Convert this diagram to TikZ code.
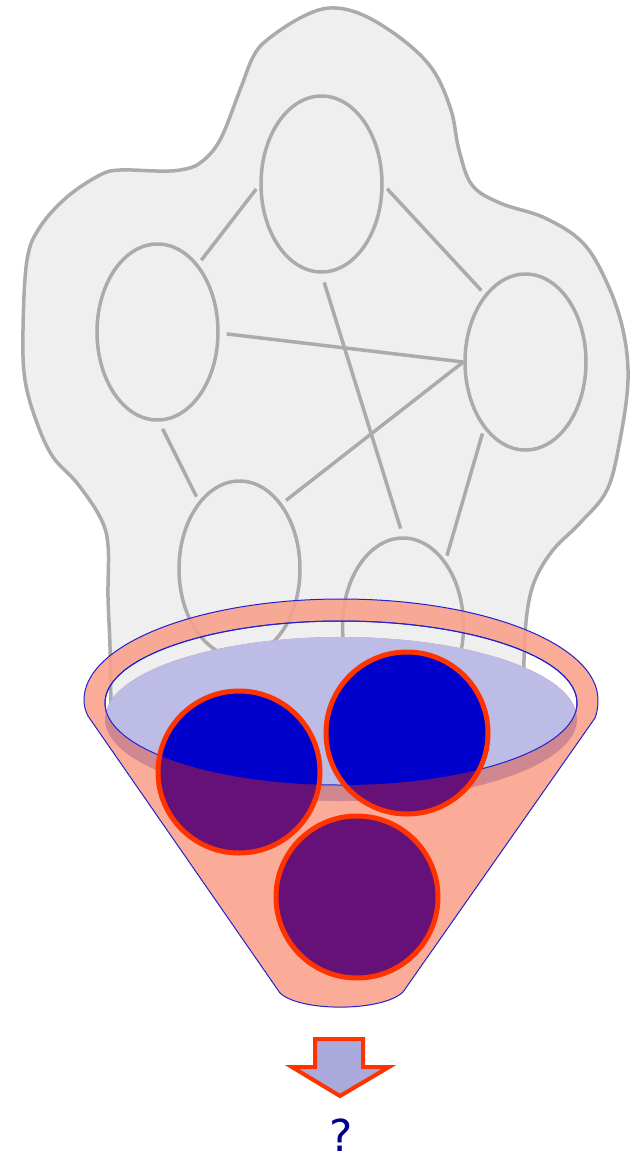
\documentclass[tikz,border=0pt]{standalone}
\usepackage{fontspec}
\setmainfont{DejaVu Sans}
\usepackage{tikz}
\usetikzlibrary{shapes.geometric}
\definecolor{cloudfill}{HTML}{EFEFEF}
\definecolor{cloudline}{HTML}{ABABAB}
\definecolor{salmon}{HTML}{FAA08A}
\definecolor{rimblue}{HTML}{2222CC}
\definecolor{lavender}{HTML}{BCBCE6}
\definecolor{mauve}{HTML}{D08890}
\definecolor{ballblue}{HTML}{0000CC}
\definecolor{ballpurple}{HTML}{661177}
\definecolor{ballred}{HTML}{FF3300}
\definecolor{arrowfill}{HTML}{AAAADD}
\definecolor{qblue}{HTML}{00008C}

\begin{document}
\begin{tikzpicture}[x=1pt,y=-1pt,
  gnode/.style={ellipse,draw=cloudline,line width=3.5pt,minimum width=121pt,
                minimum height=176pt,inner sep=0pt},
  gedge/.style={draw=cloudline,line width=3.5pt,shorten <=5pt,shorten >=5pt},
  ball/.style={draw=ballred,line width=5pt}]
  \useasboundingbox (0,0) rectangle (640,1157);

  % the cloud with its graph
  \draw[cloudline,fill=cloudfill,line width=3.5pt,line join=round]
    plot[smooth,tension=0.6] coordinates {(523,715) (524,660) (527,613) (535,580)
      (553,550) (580,523) (607,490) (620,440) (628,380) (623,330) (607,283)
      (583,243) (545,218) (500,203) (472,185) (459,150) (451,110) (433,70)
      (403,40) (363,15) (330,8) (300,18) (267,40) (253,57) (240,90) (220,140)
      (200,163) (180,170) (157,171) (120,170) (100,175) (67,197) (40,227)
      (27,260) (23,330) (25,380) (37,423) (53,457) (77,483) (100,517)
      (108,545) (108,597) (110,647) (111,715)} -- cycle;

  \node[gnode] (ntop)   at (321.5,184) {};
  \node[gnode] (nleft)  at (157.5,332) {};
  \node[gnode] (nright) at (525.5,362) {};
  \node[gnode] (nlowl)  at (239.5,569) {};
  \node[gnode] (nlowr)  at (403,626) {};

  \draw[gedge] (ntop.181) -- (nleft.59);
  \draw[gedge] (ntop.-1) -- (nright.121);
  \draw[gedge,shorten <=7pt,shorten >=0pt] (nleft.-1) -- (nright.180);
  \draw[gedge,shorten <=9pt,shorten >=8pt] (ntop.-90) -- (nlowr.90);
  \draw[gedge,shorten <=0pt] (nright.180) -- (nlowl.57);
  \draw[gedge,shorten <=8pt] (nleft.-89) -- (nlowl.121);
  \draw[gedge] (nright.238) -- (nlowr.57);

  % funnel
  \path[fill=salmon,fill opacity=.88,even odd rule,draw=rimblue,line width=1pt]
    (88,716) -- (280,993) .. controls (300,1012) and (382,1012) .. (403,992)
    -- (595,718) .. controls (597,713) and (598,707) .. (598,700)
    arc[start angle=0,end angle=-180,x radius=257,y radius=101]
    .. controls (84,707) and (86,712) .. (88,716) -- cycle
    (341,703) ellipse [x radius=236,y radius=82];

  \fill[mauve] (341,719) ellipse [x radius=236,y radius=82];
  \begin{scope}
    \clip (341,703) ellipse [x radius=236,y radius=82];
    \fill[lavender] (341,719) ellipse [x radius=236,y radius=82];
  \end{scope}
  \draw[rimblue,line width=1pt] (341,703) ellipse [x radius=236,y radius=82];

  % balls
  \foreach \bx/\by in {239/772,407/733,357/897}
    \fill[ballpurple] (\bx,\by) circle[radius=81];
  \begin{scope}
    \clip (341,703) ellipse [x radius=236,y radius=82];
    \foreach \bx/\by in {239/772,407/733}
      \fill[ballblue] (\bx,\by) circle[radius=81];
  \end{scope}
  \foreach \bx/\by in {239/772,407/733,357/897}
    \draw[ball] (\bx,\by) circle[radius=81];

  % output
  \draw[ballred,fill=arrowfill,line width=4pt,line join=miter]
    (315,1039) -- (363,1039) -- (363,1067) -- (389,1067) -- (340,1096)
    -- (292,1067) -- (315,1067) -- cycle;
  \node[text=qblue,font=\fontsize{44}{52}\selectfont,anchor=base,inner sep=0pt]
    (qmark) at (341,1151) {?};
\end{tikzpicture}
\end{document}
